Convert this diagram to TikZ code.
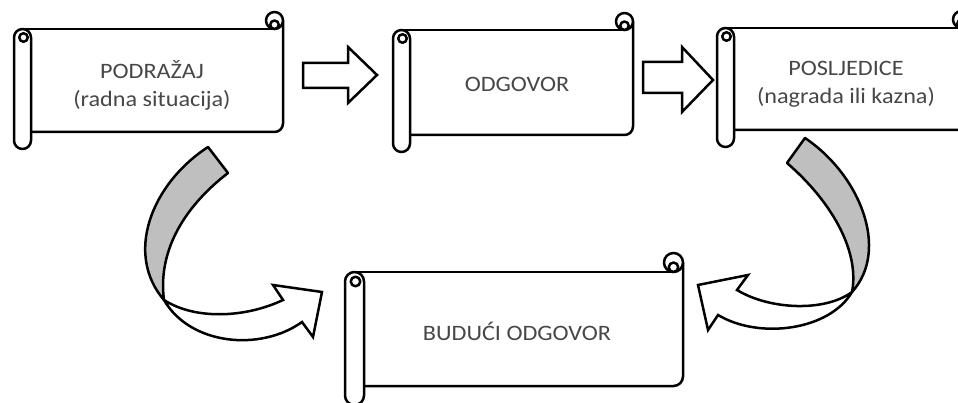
\documentclass[tikz,border=0pt]{standalone}
\usepackage{fontspec}
\setmainfont{Carlito}[FakeStretch=1.1]
\tikzset{
  scrollline/.style={draw=black, line width=2.5pt, line join=round},
  blockarrow/.style={draw=black, fill=white, line width=2.5pt, line join=miter},
  bandback/.style={draw=black, fill=black!25, line width=2.5pt, line join=round},
  bandfront/.style={draw=black, fill=white, line width=2.5pt, line join=miter},
  lbl/.style={text=black!72, align=center, inner sep=0pt, font=\fontsize{22}{28}\selectfont}
}
\newcommand\hscroll[5]{%
 \pgfmathsetmacro\hsL{#1}\pgfmathsetmacro\hsT{#2}\pgfmathsetmacro\hsR{#3}\pgfmathsetmacro\hsB{#4}\pgfmathsetmacro\hsC{#5}%
 \pgfmathsetmacro\hsH{#5/2}\pgfmathsetmacro\hsQ{#5/4}%
 \fill[white] ({\hsL+\hsH},{\hsT+\hsC}) rectangle (\hsR,{\hsB-\hsC});
 \draw[scrollline] ({\hsL+\hsH},{\hsT+\hsC}) -- ({\hsR-\hsH},{\hsT+\hsC});
 \draw[scrollline, rounded corners=\hsH pt] (\hsR,{\hsT+\hsH}) -- (\hsR,{\hsB-\hsC}) -- ({\hsL+\hsC},{\hsB-\hsC});
 \draw[scrollline, fill=white] ({\hsR-\hsH},{\hsT+\hsH}) circle (\hsH pt);
 \draw[scrollline, fill=white] ({\hsR-\hsH},{\hsT+\hsC-\hsQ}) circle (\hsQ pt);
 \draw[scrollline, fill=white, rounded corners=\hsH pt] (\hsL,{\hsT+\hsC}) rectangle ({\hsL+\hsC},\hsB);
 \draw[scrollline] ({\hsL+\hsH+1},{\hsT+\hsC+\hsH}) circle (\hsQ pt);
}
\begin{document}
\begin{tikzpicture}[x=1pt,y=-1pt]
\useasboundingbox (0,0) rectangle (958,403);
\fill[white] (0,0) rectangle (958,403);
\clip (0,0) rectangle (958,403);

% scrolls
\hscroll{14}{12}{283}{149}{17}
\hscroll{393}{13}{633}{152}{17}
\hscroll{717}{11}{970}{147}{17}
\hscroll{345}{253}{683}{405}{19}

% labels
\node[lbl] (stim) at (152,85) {PODRAŽAJ\\(radna situacija)};
\node[lbl] (resp) at (517,84) {ODGOVOR};
\node[lbl] (cons) at (846,84) {POSLJEDICE\\(nagrada ili kazna)};
\node[lbl] (future) at (517,331) {BUDUĆI ODGOVOR};

% straight block arrows
\draw[blockarrow] (303,63) -- (348,63) -- (348,47) -- (377,75) -- (348,103) -- (348,88) -- (303,88) -- cycle;
\draw[blockarrow] (643,62) -- (682,62) -- (682,47) -- (713,80) -- (682,112) -- (682,93) -- (643,93) -- cycle;

% left curved arrow
\draw[bandback] (208,147) .. controls (150,185) and (125,255) .. (164,300)
  .. controls (158,255) and (180,210) .. (228,173) -- cycle;
\draw[bandfront] (164,300) .. controls (190,345) and (260,352) .. (302,322)
  -- (313,337) -- (322,292) -- (273,285) -- (283,300)
  .. controls (245,318) and (195,320) .. (164,300) -- cycle;

% right curved arrow
\draw[bandback] (805,138) .. controls (860,175) and (890,250) .. (852,292)
  .. controls (860,250) and (830,200) .. (787,163) -- cycle;
\draw[bandfront] (852,292) .. controls (830,330) and (760,340) .. (718,315)
  -- (708,330) -- (698,285) -- (748,275) -- (737,290)
  .. controls (770,310) and (825,312) .. (852,292) -- cycle;
\end{tikzpicture}
\end{document}
